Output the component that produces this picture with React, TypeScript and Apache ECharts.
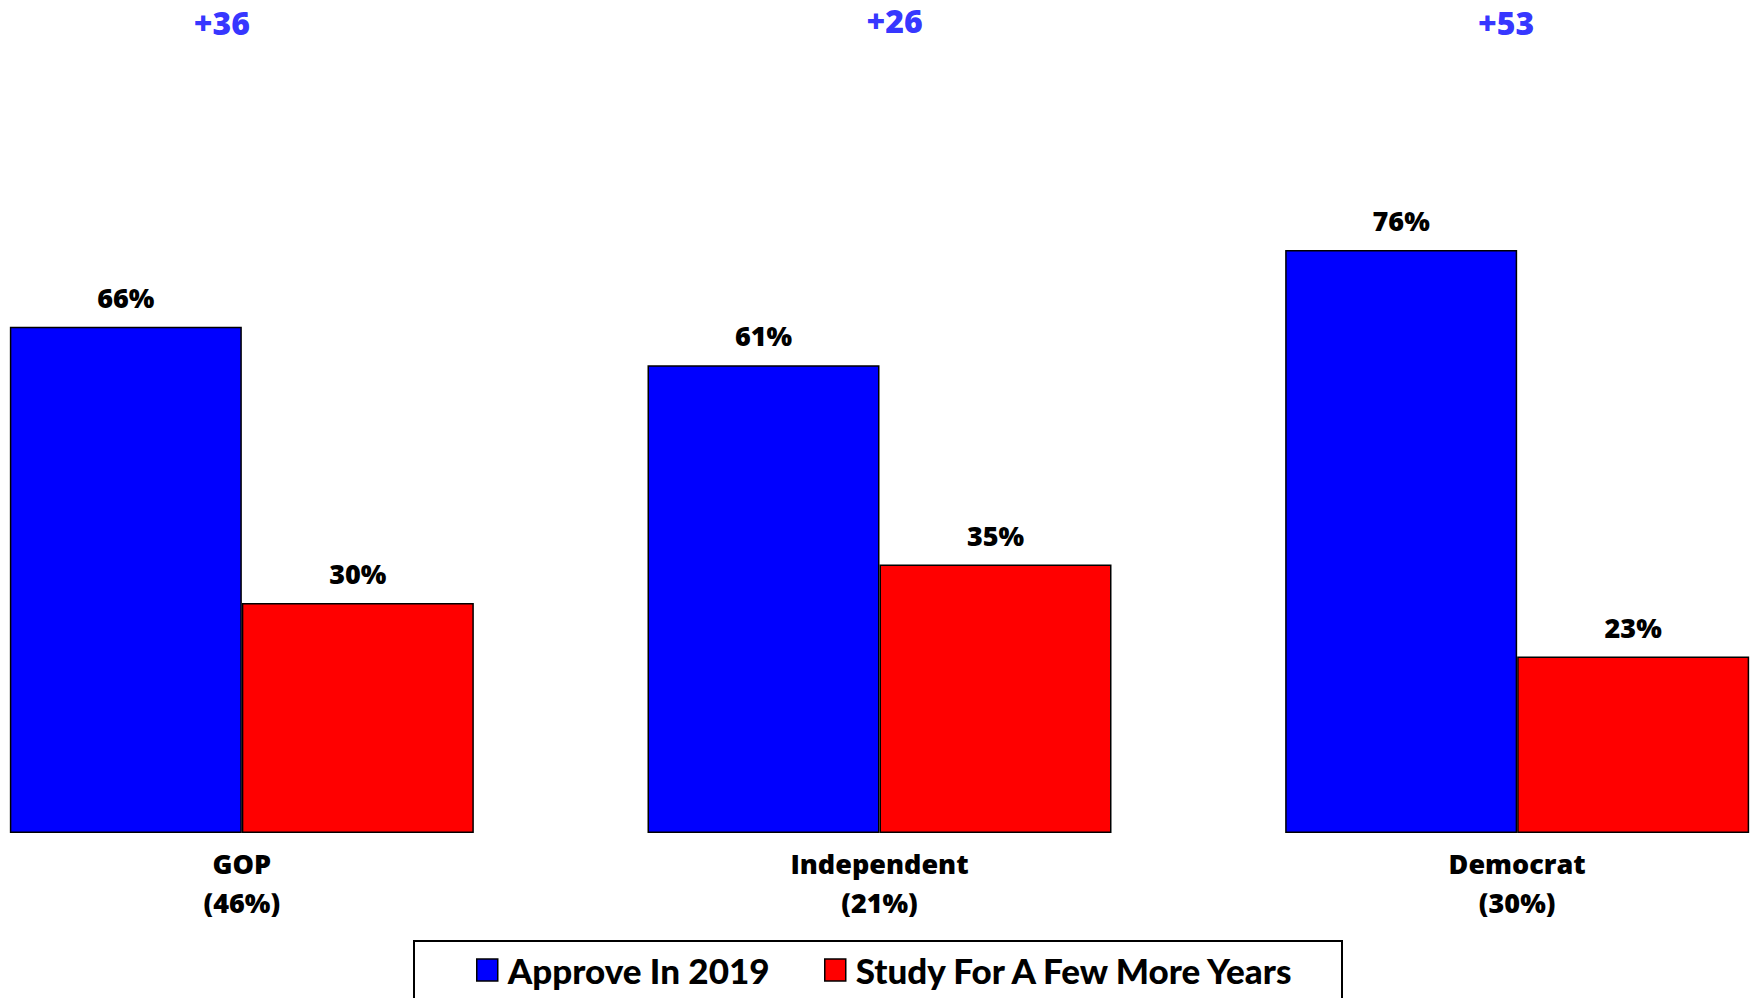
import React, { useEffect, useRef } from "react";
import * as echarts from "echarts";

const categories = ["GOP\n(46%)", "Independent\n(21%)", "Democrat\n(30%)"];
const seriesNames = ["Approve In 2019", "Study For A Few More Years"];
const approve = [66, 61, 76];
const study = [30, 35, 23];
const gapLabels = ["+36", "+26", "+53"];

const FONT = "'Open Sans', Lato, 'DejaVu Sans', sans-serif";
const LEGEND_FONT = "Lato, 'Open Sans', sans-serif";
const BLUE = "#0000FF";
const RED = "#FF0000";
// the chart canvas is shifted left so that category bands extend past the page edges
const SHIFT = 77;

export default function App() {
  const ref = useRef<HTMLDivElement>(null);

  useEffect(() => {
    if (!ref.current) return;
    const chart = echarts.init(ref.current, null, { renderer: "svg" });
    const gapOffsets = [
      [-20, 0],
      [15, -2],
      [-11, 0],
    ];
    const gapRow = 105.7;
    const barLabel = {
      show: true,
      position: "top",
      distance: 16,
      formatter: "{c}%",
      fontFamily: FONT,
      fontWeight: 800,
      fontSize: 27,
      color: "#000",
    };
    const legendBase = {
      top: 952,
      padding: 0,
      itemWidth: 21,
      itemHeight: 22,
      icon: "rect",
      itemStyle: { borderColor: "#000", borderWidth: 1.5 },
      textStyle: {
        fontFamily: LEGEND_FONT,
        fontWeight: 900,
        fontSize: 35,
        lineHeight: 36,
        color: "#000",
        padding: [0, 0, 0, 5],
      },
      selectedMode: false,
    };
    chart.setOption({
      animation: false,
      backgroundColor: "#ffffff",
      grid: { left: 0, right: 0, top: 66, bottom: 165 },
      xAxis: {
        type: "category",
        data: categories,
        axisLine: { show: false },
        axisTick: { show: false },
        splitLine: { show: false },
        axisLabel: {
          fontFamily: FONT,
          fontWeight: 800,
          fontSize: 27,
          color: "#000",
          lineHeight: 39,
          margin: 11,
        },
      },
      yAxis: { type: "value", min: 0, max: 100, show: false },
      legend: [
        { ...legendBase, left: 476 + SHIFT, data: [seriesNames[0]] },
        { ...legendBase, left: 824 + SHIFT, data: [seriesNames[1]] },
      ],
      graphic: [
        {
          type: "rect",
          shape: { x: 414 + SHIFT, y: 941, width: 928, height: 90 },
          style: { fill: "none", stroke: "#000", lineWidth: 2 },
          silent: true,
        },
      ],
      series: [
        {
          name: seriesNames[0],
          type: "bar",
          data: approve,
          barWidth: 232,
          barGap: "0%",
          itemStyle: { color: BLUE, borderColor: "#000", borderWidth: 1.5 },
          label: barLabel,
        },
        {
          name: seriesNames[1],
          type: "bar",
          data: study,
          barWidth: 232,
          barGap: "0%",
          itemStyle: { color: RED, borderColor: "#000", borderWidth: 1.5 },
          label: barLabel,
        },
        {
          name: "gap",
          type: "scatter",
          symbolSize: 0,
          clip: false,
          silent: true,
          data: gapLabels.map((g, i) => ({
            value: [categories[i], gapRow],
            label: { offset: gapOffsets[i] },
          })),
          label: {
            show: true,
            position: "inside",
            formatter: (p: any) => gapLabels[p.dataIndex],
            fontFamily: FONT,
            fontWeight: 800,
            fontSize: 32,
            color: BLUE,
          },
        },
      ],
    });
    return () => chart.dispose();
  }, []);

  return (
    <div
      style={{
        position: "fixed",
        left: 0,
        top: 0,
        width: 1753,
        height: 998,
        overflow: "hidden",
        background: "#fff",
      }}
    >
      <div
        ref={ref}
        style={{ position: "absolute", left: -SHIFT, top: 0, width: 1913, height: 998 }}
      />
    </div>
  );
}
